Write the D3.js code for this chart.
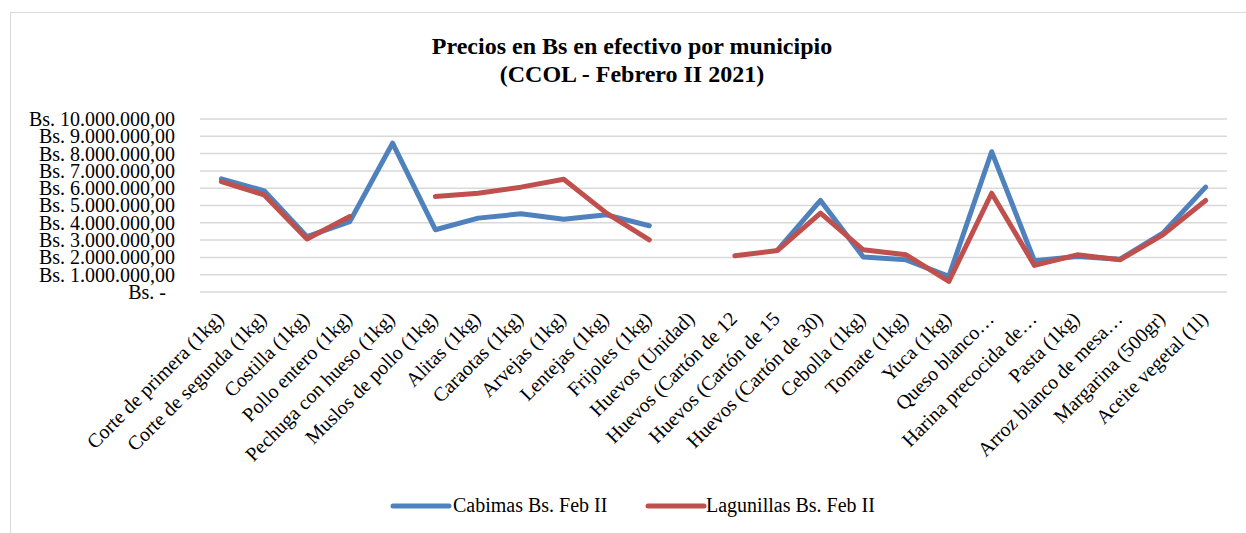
<!DOCTYPE html>
<html>
<head>
<meta charset="utf-8">
<script src="https://cdn.jsdelivr.net/npm/d3@7"></script>
<style>
  html, body { margin: 0; padding: 0; background: #fff; }
  svg { display: block; }
  text { font-family: "Liberation Serif", "DejaVu Serif", serif; fill: #000; }
</style>
</head>
<body>
<svg id="chart" width="1246" height="533"></svg>
<script>
const categories = [
  "Corte de primera (1kg)", "Corte de segunda (1kg)", "Costilla (1kg)", "Pollo entero (1kg)",
  "Pechuga con hueso (1kg)", "Muslos de pollo (1kg)", "Alitas (1kg)", "Caraotas (1kg)",
  "Arvejas (1kg)", "Lentejas (1kg)", "Frijoles (1kg)", "Huevos (Unidad)",
  "Huevos (Cartón de 12", "Huevos (Cartón de 15", "Huevos (Cartón de 30)", "Cebolla (1kg)",
  "Tomate (1kg)", "Yuca (1kg)", "Queso blanco…", "Harina precocida de…",
  "Pasta (1kg)", "Arroz blanco de mesa…", "Margarina (500gr)", "Aceite vegetal (1l)"
];
const cabimas = [
  6540000, 5850000, 3200000, 4070000, 8600000, 3600000, 4270000, 4520000,
  4210000, 4460000, 3830000, null, null, 2440000, 5290000, 2020000,
  1860000, 900000, 8110000, 1800000, 2050000, 1900000, 3400000, 6060000
];
const lagunillas = [
  6380000, 5610000, 3060000, 4360000, null, 5520000, 5710000, 6060000,
  6520000, 4560000, 3020000, null, 2090000, 2400000, 4560000, 2440000,
  2150000, 610000, 5710000, 1540000, 2150000, 1860000, 3300000, 5290000
];
const seriesNames = ["Cabimas Bs. Feb II", "Lagunillas Bs. Feb II"];
const yTicks = [0, 1000000, 2000000, 3000000, 4000000, 5000000, 6000000, 7000000, 8000000, 9000000, 10000000];
const titleLines = ["Precios en Bs en efectivo por municipio", "(CCOL - Febrero II 2021)"];

const colors = ["#4F81BD", "#C0504D"];
const svg = d3.select("#chart");

// outer chart border
svg.append("rect").attr("x", 10.5).attr("y", 12.5).attr("width", 1260).attr("height", 540)
  .attr("fill", "none").attr("stroke", "#d9d9d9").attr("stroke-width", 1);

const x = d3.scalePoint().domain(categories).range([200, 1227]).padding(0.5);
const y = d3.scaleLinear().domain([0, 10000000]).range([292, 119]);

const loc = d3.formatLocale({decimal: ",", thousands: ".", grouping: [3], currency: ["", ""]});
const fmt = loc.format(",.2f");

// gridlines
svg.append("g").selectAll("line").data(yTicks).join("line")
  .attr("x1", 200).attr("x2", 1227)
  .attr("y1", d => y(d)).attr("y2", d => y(d))
  .attr("stroke", "#d9d9d9").attr("stroke-width", 1.5);

// y axis
const yAxis = svg.append("g").attr("transform", "translate(180,0)")
  .call(d3.axisLeft(y).tickValues(yTicks).tickSize(0).tickPadding(5)
    .tickFormat(d => d === 0 ? "Bs. -" : "Bs. " + fmt(d)));
yAxis.select(".domain").remove();
yAxis.selectAll("text").attr("font-size", 20).attr("font-family", "Liberation Serif").attr("fill", "#000")
  .attr("dx", d => d === 0 ? -9 : 0);

// x axis labels
const xAxis = svg.append("g").attr("transform", "translate(0,292)")
  .call(d3.axisBottom(x).tickSize(0).tickPadding(0));
xAxis.select(".domain").remove();
xAxis.selectAll("text")
  .attr("font-size", 20).attr("font-family", "Liberation Serif").attr("fill", "#000")
  .attr("text-anchor", "end")
  .attr("dy", 0)
  .attr("transform", "translate(3,28) rotate(-45)");

// lines
const line = d3.line().defined(d => d.v != null).x(d => x(d.c)).y(d => y(d.v));
[cabimas, lagunillas].forEach((s, i) => {
  svg.append("path")
    .datum(categories.map((c, j) => ({c, v: s[j]})))
    .attr("d", line)
    .attr("fill", "none").attr("stroke", colors[i]).attr("stroke-width", 5)
    .attr("stroke-linejoin", "round").attr("stroke-linecap", "round");
});

// title
svg.append("text").attr("x", 632).attr("y", 54).attr("text-anchor", "middle")
  .attr("font-size", 24).attr("font-weight", "bold").text(titleLines[0]);
svg.append("text").attr("x", 632).attr("y", 82).attr("text-anchor", "middle")
  .attr("font-size", 24).attr("font-weight", "bold").text(titleLines[1]);

// legend
const legendPos = [{lx: 393, tx: 453}, {lx: 648, tx: 706}];
seriesNames.forEach((n, i) => {
  const g = svg.append("g");
  g.append("line").attr("x1", legendPos[i].lx).attr("x2", legendPos[i].lx + 56)
    .attr("y1", 506).attr("y2", 506).attr("stroke", colors[i]).attr("stroke-width", 5)
    .attr("stroke-linecap", "round");
  g.append("text").attr("x", legendPos[i].tx).attr("y", 512).attr("font-size", 20).text(n);
});
</script>
</body>
</html>
